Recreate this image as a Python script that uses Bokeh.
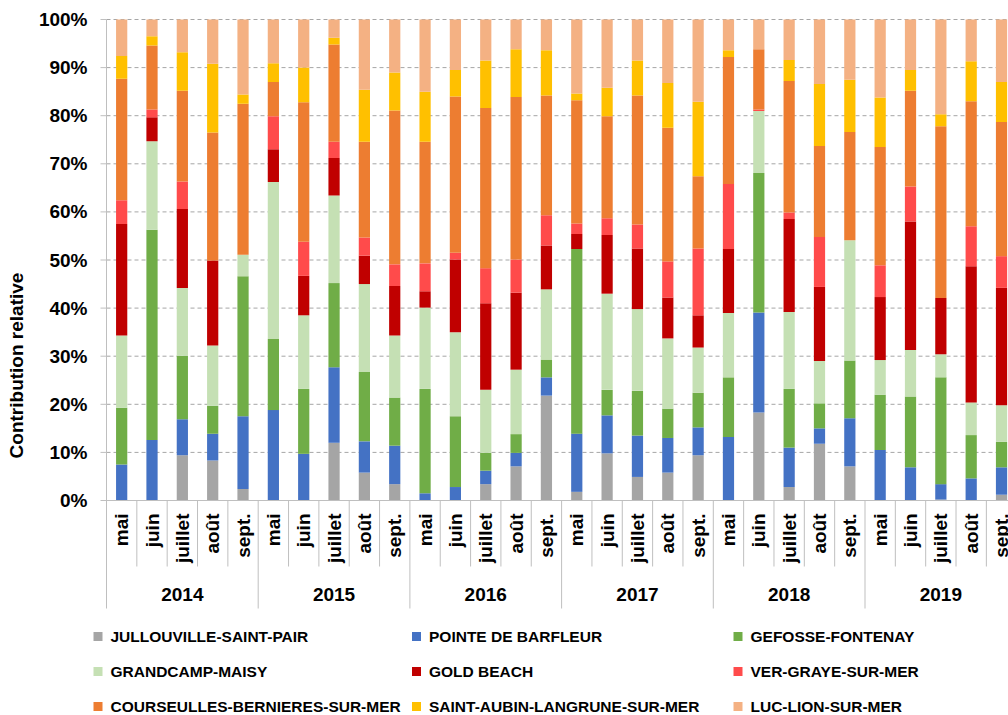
import numpy as np
from bokeh.plotting import figure
from bokeh.models import Range1d, FixedTicker, ColumnDataSource, NumeralTickFormatter
from bokeh.core.properties import value
from bokeh.embed import file_html
from bokeh.resources import INLINE

# ---------------- data ----------------
years = ["2014", "2015", "2016", "2017", "2018", "2019"]
months = ["mai", "juin", "juillet", "août", "sept."]

series_names = [
    "JULLOUVILLE-SAINT-PAIR", "POINTE DE BARFLEUR", "GEFOSSE-FONTENAY",
    "GRANDCAMP-MAISY", "GOLD BEACH", "VER-GRAYE-SUR-MER",
    "COURSEULLES-BERNIERES-SUR-MER", "SAINT-AUBIN-LANGRUNE-SUR-MER", "LUC-LION-SUR-MER",
]
colors = ["#A5A5A5", "#4472C4", "#70AD47", "#C5E0B4", "#C00000",
          "#FF4B4B", "#ED7D31", "#FFC000", "#F4B183"]

# values in % for each (year, month), 2014 mai ... 2019 sept.
jullouville = [0, 0, 9.4, 8.3, 2.4,   0, 0, 12.0, 5.8, 3.4,   0, 0, 3.4, 7.1, 21.8,
               1.8, 9.8, 4.9, 5.8, 9.4,   0, 18.3, 2.8, 11.8, 7.1,   0, 0, 0.2, 0, 1.2]
barfleur = [7.5, 12.6, 7.5, 5.6, 15.1,   18.8, 9.7, 15.7, 6.5, 8.0,   1.5, 2.8, 2.8, 2.8, 3.8,
            12.1, 7.9, 8.6, 7.2, 5.8,   13.2, 20.8, 8.2, 3.2, 10.0,   10.5, 6.9, 3.2, 4.6, 5.7]
gefosse = [11.8, 43.7, 13.2, 5.8, 29.1,   14.8, 13.5, 17.5, 14.4, 10.0,   21.7, 14.7, 3.7, 3.9, 3.7,
           38.4, 5.3, 9.3, 6.1, 7.2,   12.4, 29.0, 12.2, 5.2, 12.0,   11.5, 14.7, 22.2, 9.0, 5.3]
grandcamp = [15.0, 18.4, 14.1, 12.5, 4.5,   32.6, 15.3, 18.2, 18.3, 12.9,   16.9, 17.5, 13.1, 13.4, 14.6,
             0, 20.0, 17.0, 14.6, 9.4,   13.4, 12.9, 16.0, 8.8, 25.0,   7.2, 9.7, 4.8, 6.8, 7.6]
gold_beach = [23.2, 5.0, 16.4, 17.7, 0,   6.8, 8.2, 7.8, 5.9, 10.3,   3.4, 15.1, 18.0, 16.0, 9.1,
              3.1, 12.2, 12.6, 8.5, 6.7,   13.3, 0, 19.3, 15.4, 0,   13.1, 26.7, 11.7, 28.3, 24.4]
ver_graye = [4.9, 1.6, 5.7, 0, 0,   6.9, 7.1, 3.4, 3.8, 4.5,   5.8, 1.4, 7.3, 6.9, 6.3,
             2.2, 3.5, 5.0, 7.5, 13.9,   13.5, 0.3, 1.4, 10.4, 0,   6.6, 7.3, 0, 8.3, 6.6]
courseulles = [25.3, 13.3, 18.9, 26.6, 31.4,   7.1, 29.0, 20.2, 19.9, 32.0,   25.3, 32.5, 33.3, 33.8, 24.9,
               25.6, 21.2, 26.8, 27.8, 15.0,   26.4, 12.5, 27.3, 18.9, 22.5,   24.6, 19.9, 35.7, 26.0, 27.9]
saint_aubin = [4.7, 1.9, 8.0, 14.3, 1.9,   3.9, 7.2, 1.4, 10.8, 7.9,   10.4, 5.5, 9.9, 9.9, 9.4,
               1.4, 5.9, 7.3, 9.3, 15.5,   1.4, 0, 4.4, 12.9, 10.9,   10.3, 4.3, 2.5, 8.3, 8.3]
luc_lion = [7.6, 3.5, 6.8, 9.2, 15.6,   9.1, 10.0, 3.8, 14.6, 11.0,   15.0, 10.5, 8.5, 6.2, 6.4,
            15.4, 14.2, 8.5, 13.2, 17.1,   6.4, 6.2, 8.4, 13.4, 12.5,   16.2, 10.5, 19.7, 8.7, 13.0]

series_values = [jullouville, barfleur, gefosse, grandcamp, gold_beach,
                 ver_graye, courseulles, saint_aubin, luc_lion]

y_ticks = [i / 10 for i in range(11)]

# ---------------- layout constants (page pixels) ----------------
W, H = 1008, 715
FONT_NAME = "Liberation Sans"
FONT = value(FONT_NAME)
TXT = "#000000"
AXIS_C = "#BFBFBF"
GRID_C = "#A6A6A6"
PX = 30.34           # pixels per category
PY = 481.0           # pixels per 100 %
X_AXIS_PAGE = 106    # page x of category axis origin
Y0_PAGE = 500        # page y of 0 %
FRAME_LEFT = 90
FRAME_TOP = 15


def gx(px):  # page x -> data x
    return (px - X_AXIS_PAGE) / PX


def gy(py):  # page y -> data y
    return (Y0_PAGE - py) / PY


n_cat = len(years) * len(months)
vals = np.array(series_values, dtype=float)
frac = vals / vals.sum(axis=0)

keys = ["s%d" % i for i in range(len(series_names))]
data = {"x": np.arange(n_cat) + 0.5}
for k, f in zip(keys, frac):
    data[k] = f
src = ColumnDataSource(data)

p = figure(width=W, height=H, output_backend="svg", toolbar_location=None,
           x_range=Range1d(gx(FRAME_LEFT), gx(W)), y_range=Range1d(gy(H), gy(FRAME_TOP)),
           x_axis_location=None, min_border_left=FRAME_LEFT, min_border_right=0,
           min_border_top=FRAME_TOP, min_border_bottom=0)
p.outline_line_color = None
p.xgrid.visible = False
p.ygrid.visible = False

# ----- y axis (labels + title from Bokeh's axis; line/ticks drawn at category origin) -----
p.yaxis.ticker = FixedTicker(ticks=y_ticks)
p.yaxis.formatter = NumeralTickFormatter(format="0%")
p.yaxis.axis_line_color = None
p.yaxis.major_tick_line_color = None
p.yaxis.major_tick_out = 0
p.yaxis.major_tick_in = 0
p.yaxis.minor_tick_line_color = None
p.yaxis.major_label_standoff = 3
p.yaxis.major_label_text_font = FONT_NAME
p.yaxis.major_label_text_font_style = "bold"
p.yaxis.major_label_text_font_size = "19px"
p.yaxis.major_label_text_color = TXT
p.yaxis.axis_label = "Contribution relative"
p.yaxis.axis_label_text_font = FONT_NAME
p.yaxis.axis_label_text_font_style = "bold"
p.yaxis.axis_label_text_font_size = "19px"
p.yaxis.axis_label_text_color = TXT
p.yaxis.axis_label_standoff = 9

x_end = gx(W) + 1
grid_vals = [t for t in y_ticks if t > 0]
p.segment(x0=[0] * len(grid_vals), y0=grid_vals, x1=[x_end] * len(grid_vals), y1=grid_vals,
          line_color=GRID_C, line_width=1, line_dash="4 3")

# bars
p.vbar_stack(keys, x="x", width=0.37, color=colors, source=src, line_width=0)

# axis lines and ticks
p.segment(x0=[gx(100)] * len(y_ticks), y0=y_ticks, x1=[0] * len(y_ticks), y1=y_ticks,
          line_color=AXIS_C, line_width=1)
p.segment(x0=[0], y0=[1.0], x1=[0], y1=[gy(608)], line_color=AXIS_C, line_width=1)
p.segment(x0=[0], y0=[0], x1=[x_end], y1=[0], line_color=AXIS_C, line_width=1)

short_x = [i for i in range(1, n_cat) if i % len(months) != 0]
p.segment(x0=short_x, y0=[0] * len(short_x), x1=short_x, y1=[gy(566)] * len(short_x),
          line_color=AXIS_C, line_width=1)
long_x = [i for i in range(len(months), n_cat + 1, len(months))]
p.segment(x0=long_x, y0=[0] * len(long_x), x1=long_x, y1=[gy(608)] * len(long_x),
          line_color=AXIS_C, line_width=1)

# month labels
month_labels = months * len(years)
p.text(x=list(np.arange(n_cat) + 0.5), y=[gy(513)] * n_cat, text=month_labels,
       angle=np.pi / 2, text_align="right", text_baseline="middle",
       text_font=FONT, text_font_style="bold", text_font_size="19px", text_color=TXT)

# year labels
p.text(x=[len(months) * (k + 0.5) for k in range(len(years))], y=[gy(594)] * len(years),
       text=years, text_align="center", text_baseline="middle",
       text_font=FONT, text_font_style="bold", text_font_size="19px", text_color=TXT)

# ----- legend (3 columns x 3 rows) -----
col_px = [97.5, 416, 737.5]
row_py = [636, 671, 706]
lx, ly, lc = [], [], []
for i, name in enumerate(series_names):
    r, c = divmod(i, 3)
    lx.append(col_px[c])
    ly.append(row_py[r])
    lc.append(colors[i])
p.rect(x=[gx(v) for v in lx], y=[gy(v) for v in ly], width=9 / PX, height=9 / PY,
       fill_color=lc, line_color=None)
p.text(x=[gx(v + 12.5) for v in lx], y=[gy(v) for v in ly], text=series_names,
       text_align="left", text_baseline="middle", text_font=FONT, text_font_style="bold",
       text_font_size="15.5px", text_color=TXT)

open("out.html", "w").write(file_html(p, INLINE))
